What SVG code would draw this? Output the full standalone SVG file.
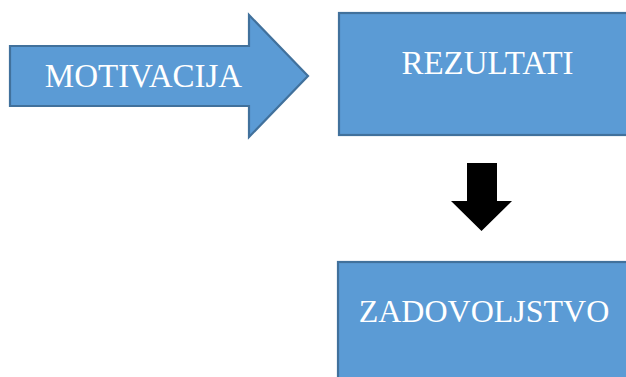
<svg xmlns="http://www.w3.org/2000/svg" width="626" height="377" viewBox="0 0 626 377">
<style>
.shape{fill:#5B9BD5;stroke:#41719C;stroke-width:2.2}
.lbl{font-family:"Liberation Serif","Times New Roman",serif;font-size:33px;fill:#FFFFFF;text-anchor:middle}
</style>
<rect width="626" height="377" fill="#FFFFFF"/>
<g id="motivacija">
<polygon class="shape" points="10,46 249,46 249,15 308,76 249,137 249,106 10,106"/>
<text class="lbl" x="143.5" y="87">MOTIVACIJA</text>
</g>
<g id="rezultati">
<rect class="shape" x="339" y="13" width="300" height="122"/>
<text class="lbl" x="487.5" y="73.5">REZULTATI</text>
</g>
<g id="zadovoljstvo">
<rect class="shape" x="338" y="262" width="300" height="130"/>
<text class="lbl" x="484" y="321.5" style="font-size:32px">ZADOVOLJSTVO</text>
</g>
<g id="connectors">
<polygon fill="#000000" points="467,163 497,163 497,201 512,201 481.5,231 451,201 467,201"/>
</g>
</svg>
